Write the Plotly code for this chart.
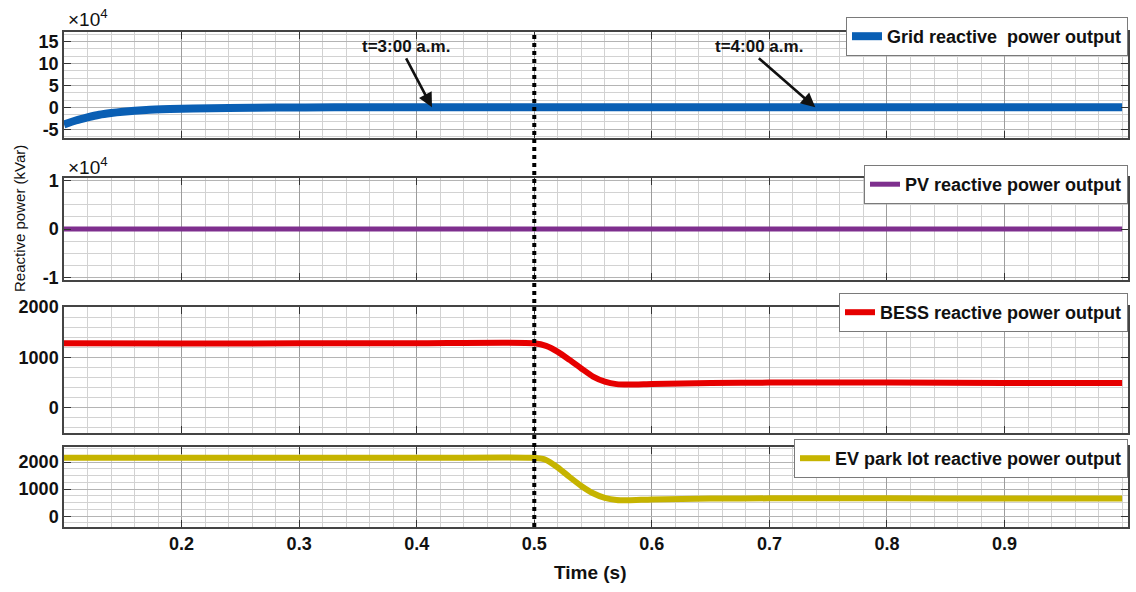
import plotly.graph_objects as go

# ---- data -------------------------------------------------------------
# Grid reactive power (in units of 1e4 kVar)
T_GRID = [0.10, 0.11, 0.12, 0.13, 0.14, 0.15, 0.17, 0.19, 0.21, 0.24, 0.28,
          0.33, 0.40, 0.50, 0.60, 0.70, 0.80, 0.90, 1.00]
Q_GRID = [-3.9, -3.0, -2.3, -1.7, -1.3, -1.0, -0.6, -0.4, -0.25, -0.15, -0.05,
          0.0, 0.0, 0.0, 0.0, 0.0, 0.0, 0.0, 0.0]

# PV reactive power (in units of 1e4 kVar)
T_PV = [0.10, 1.00]
Q_PV = [0.0, 0.0]

# BESS and EV park lot reactive power (kVar)
T_STORE = [0.10, 0.20, 0.30, 0.40, 0.50, 0.51, 0.52, 0.53, 0.54, 0.55, 0.56,
           0.57, 0.58, 0.60, 0.65, 0.70, 0.80, 0.90, 1.00]
Q_BESS = [1280, 1275, 1280, 1280, 1280, 1230, 1110, 950, 780, 620, 520,
          470, 460, 470, 490, 500, 500, 490, 490]
Q_EV = [2160, 2160, 2160, 2160, 2160, 2080, 1800, 1450, 1120, 850, 680,
        600, 590, 620, 650, 660, 660, 650, 650]

SERIES_NAMES = ["Grid reactive&nbsp; power output", "PV reactive power output",
                "BESS reactive power output", "EV park lot reactive power output"]

X_TICKS = [0.2, 0.3, 0.4, 0.5, 0.6, 0.7, 0.8, 0.9]
X_TICK_TEXT = ["0.2", "0.3", "0.4", "0.5", "0.6", "0.7", "0.8", "0.9"]

Y1_TICKS = [-5, 0, 5, 10, 15]
Y1_TEXT = ["-5", "0", "5", "10", "15"]
Y2_TICKS = [-1, 0, 1]
Y2_TEXT = ["-1", "0", "1"]
Y3_TICKS = [0, 1000, 2000]
Y3_TEXT = ["0", "1000", "2000"]
Y4_TICKS = [0, 1000, 2000]
Y4_TEXT = ["0", "1000", "2000"]

EVENT_T = 0.5
EVENT_LABELS = ["t=3:00 a.m.", "t=4:00 a.m."]
EVENT_HEAD_T = [0.413, 0.739]
EVENT_TAIL_T = [0.391, 0.691]
EVENT_TAIL_Q = [11.2, 11.2]

# ---- layout helpers ---------------------------------------------------
W, H = 1136, 592
FONT = "Liberation Sans, Arial, sans-serif"


def px_x(p):
    return p / W


def px_y(p):
    return 1 - p / H


X_DOMAIN = [px_x(64), px_x(1128)]
Y_DOMAINS = [
    [px_y(138), px_y(32)],
    [px_y(280), px_y(178)],
    [px_y(433), px_y(307)],
    [px_y(527), px_y(447)],
]
Y_RANGES = [[-7.0, 17.2], [-1.05, 1.05], [-500, 2000], [-400, 2560]]
Y_TICKS = [(Y1_TICKS, Y1_TEXT), (Y2_TICKS, Y2_TEXT), (Y3_TICKS, Y3_TEXT), (Y4_TICKS, Y4_TEXT)]
Y_MINOR = [5 / 3, 0.25, 200, 250]
LEGEND_TOPS = [17, 165, 293, 439]

COLORS = ["#0a5fb4", "#7e2f8e", "#e60000", "#c6b400"]
WIDTHS = [8, 5, 6, 6]

series = [(T_GRID, Q_GRID), (T_PV, Q_PV), (T_STORE, Q_BESS), (T_STORE, Q_EV)]

fig = go.Figure()

for i, ((t, q), name) in enumerate(zip(series, SERIES_NAMES)):
    k = "" if i == 0 else str(i + 1)
    fig.add_trace(go.Scatter(
        x=t, y=q, mode="lines", name=name,
        line=dict(color=COLORS[i], width=WIDTHS[i], shape="spline", smoothing=0.6),
        xaxis="x" + k, yaxis="y" + k, legend="legend" + k,
    ))

layout = dict(
    width=W, height=H,
    margin=dict(l=0, r=0, t=0, b=0, autoexpand=False),
    paper_bgcolor="white", plot_bgcolor="white",
    font=dict(family=FONT, color="#111111"),
    showlegend=True,
)

tick_font = dict(family=FONT, size=18, color="#111111", weight="bold")

for i in range(4):
    k = "" if i == 0 else str(i + 1)
    xa = dict(
        domain=X_DOMAIN, range=[0.1, 1.005], anchor="y" + k,
        tickvals=X_TICKS,
        showticklabels=(i == 3),
        tickfont=tick_font,
        ticks="inside", ticklen=7, tickcolor="#333333",
        showgrid=True, gridcolor="#9c9c9c", gridwidth=1,
        minor=dict(tick0=0.1, dtick=0.02, showgrid=True, gridcolor="#d2d2d2", gridwidth=1),
        showline=True, linecolor="#444444", linewidth=1.5, mirror="ticks",
        zeroline=False, automargin=False,
    )
    if i == 3:
        xa["ticktext"] = X_TICK_TEXT
    layout["xaxis" + k] = xa
    tv, tt = Y_TICKS[i]
    layout["yaxis" + k] = dict(
        domain=Y_DOMAINS[i], range=Y_RANGES[i], anchor="x" + k,
        tickvals=tv, ticktext=tt, tickfont=tick_font,
        ticks="inside", ticklen=7, tickcolor="#333333",
        showgrid=True, gridcolor="#b4b4b4", gridwidth=1,
        minor=dict(tick0=0, dtick=Y_MINOR[i], showgrid=True, gridcolor="#d2d2d2", gridwidth=1),
        showline=True, linecolor="#444444", linewidth=1.5, mirror="ticks",
        zeroline=False, automargin=False,
    )
    layout["legend" + k] = dict(
        x=px_x(1128), xanchor="right",
        y=px_y(LEGEND_TOPS[i]), yanchor="top",
        bgcolor="white", bordercolor="#7a7a7a", borderwidth=1,
        font=dict(family=FONT, size=18, color="#111111", weight="bold"),
        itemwidth=30, tracegroupgap=0,
    )

fig.update_layout(**layout)

# event marker at t = 0.5 s spanning all panels
fig.add_shape(
    type="line", xref="x4", yref="paper",
    x0=EVENT_T, x1=EVENT_T, y0=px_y(527), y1=px_y(31),
    line=dict(color="black", width=4, dash="dot"),
)

annotations = []
# time-of-day labels, each with an arrow pointing down to the grid trace
for label, ht, tt_, tq in zip(EVENT_LABELS, EVENT_HEAD_T, EVENT_TAIL_T, EVENT_TAIL_Q):
    annotations.append(dict(
        x=ht, y=0, xref="x", yref="y", ax=tt_, ay=tq, axref="x", ayref="y",
        text=label, xanchor="center", yanchor="bottom",
        showarrow=True, arrowhead=2, arrowsize=1.1, arrowwidth=2.6,
        arrowcolor="#111111", standoff=0, startstandoff=0,
        font=dict(family=FONT, size=17, color="#111111", weight="bold"),
    ))

# exponent labels for the two scaled panels
for ypix in (18, 166):
    annotations.append(dict(
        x=px_x(66), y=px_y(ypix), xref="paper", yref="paper",
        text="×10<sup>4</sup>", showarrow=False, xanchor="left", yanchor="middle",
        font=dict(family=FONT, size=19, color="#111111"),
    ))

# shared axis titles
annotations.append(dict(
    x=px_x(19), y=px_y(219), xref="paper", yref="paper",
    text="Reactive power (kVar)", textangle=-90, showarrow=False,
    xanchor="center", yanchor="middle",
    font=dict(family=FONT, size=15, color="#111111"),
))
annotations.append(dict(
    x=px_x(590), y=px_y(572), xref="paper", yref="paper",
    text="<b>Time (s)</b>", showarrow=False, xanchor="center", yanchor="middle",
    font=dict(family=FONT, size=19, color="#111111"),
))

fig.update_layout(annotations=annotations)

fig.write_html("out.html")
